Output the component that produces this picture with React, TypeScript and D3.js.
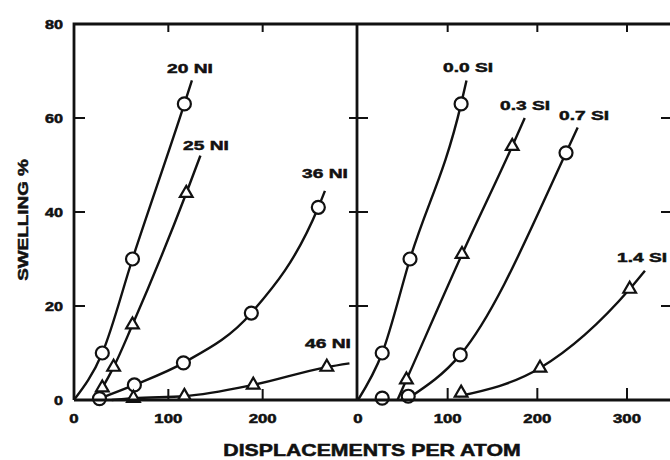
import React from "react";
import * as d3 from "d3";

// ---------- data (displacements per atom, swelling %) ----------
const xTicksLeft = [0, 100, 200];
const xTicksRight = [0, 100, 200, 300];
const yTicks = [0, 20, 40, 60, 80];
const yMinorTicks = [20, 40, 60];
const topTicksLeft = [100, 200];
const topTicksRight = [100, 200, 300];

// left panel: nickel series
const ni20Pts: [number, number][] = [[30, 10], [62, 30], [117, 63]];
const ni20Fit: [number, number][] = [[0, 0], [30, 10], [62, 30], [117, 63], [125, 68]];

const ni25Pts: [number, number][] = [[30, 2.6], [42, 7], [62, 16], [119, 44]];
const ni25Fit: [number, number][] = [[22, 0], [30, 2.6], [42, 7], [62, 16], [119, 44], [134, 52]];

const ni36Pts: [number, number][] = [[27, 0.3], [64, 3.2], [116, 7.9], [188, 18.5], [259, 41]];
const ni36Fit: [number, number][] = [[27, 0.3], [64, 3.2], [116, 7.9], [188, 18.5], [259, 41], [266, 44.5]];

const ni46Pts: [number, number][] = [[63, 0.4], [117, 0.8], [190, 3.2], [268, 7]];
const ni46Fit: [number, number][] = [[40, 0], [63, 0.4], [117, 0.8], [190, 3.2], [268, 7], [292, 7.8]];

// right panel: silicon series
const si00Pts: [number, number][] = [[27, 10], [58, 30], [115, 63]];
const si00Fit: [number, number][] = [[0, 0], [27, 10], [58, 30], [115, 63], [121, 68]];

const si03Pts: [number, number][] = [[54, 4.3], [116, 31], [172, 54]];
const si03Fit: [number, number][] = [[44, 0], [54, 4.3], [116, 31], [172, 54], [186, 60]];

const si07Pts: [number, number][] = [[27, 0.4], [56, 0.8], [114, 9.6], [232, 52.6]];
const si07Fit: [number, number][] = [[58, 0.6], [114, 9.6], [232, 52.6], [245, 58]];

const si14Pts: [number, number][] = [[115, 1.5], [203, 6.8], [303, 23.6]];
const si14Fit: [number, number][] = [[112, 0.8], [203, 6.8], [303, 23.6], [320, 27.5]];

const leftSeries = [
  { label: "20 NI", pts: ni20Pts, fit: ni20Fit, shape: "circle", lx: 190, ly: 73 },
  { label: "25 NI", pts: ni25Pts, fit: ni25Fit, shape: "triangle", lx: 206, ly: 150 },
  { label: "36 NI", pts: ni36Pts, fit: ni36Fit, shape: "circle", lx: 325, ly: 178 },
  { label: "46 NI", pts: ni46Pts, fit: ni46Fit, shape: "triangle", lx: 328, ly: 348 },
];
const rightSeries = [
  { label: "0.0 SI", pts: si00Pts, fit: si00Fit, shape: "circle", lx: 468, ly: 72 },
  { label: "0.3 SI", pts: si03Pts, fit: si03Fit, shape: "triangle", lx: 525, ly: 110 },
  { label: "0.7 SI", pts: si07Pts, fit: si07Fit, shape: "circle", lx: 584, ly: 120 },
  { label: "1.4 SI", pts: si14Pts, fit: si14Fit, shape: "triangle", lx: 642, ly: 262 },
];

// ---------- layout ----------
const W = 670;
const H = 460;
const top = 24;
const bottom = 400;
const leftX = 74;
const divX = 357;
const rightEdge = 670;

const xL = d3.scaleLinear().domain([0, 300]).range([leftX, divX]);
const xR = d3.scaleLinear().domain([0, 300]).range([358, 627]);
const y = d3.scaleLinear().domain([0, 80]).range([bottom, top]);

const FONT = "'Liberation Sans', Arial, Helvetica, sans-serif";
const INK = "#111";

function T({ x, y: yy, anchor = "middle", size = 12, sx = 1.4, rotate = 0, children }: any) {
  return (
    <text
      transform={`translate(${x},${yy})${rotate ? ` rotate(${rotate})` : ""} scale(${sx},1)`}
      textAnchor={anchor}
      fontFamily={FONT}
      fontWeight="bold"
      fontSize={size}
      fill={INK}
      stroke={INK}
      strokeWidth={0.5}
    >
      {children}
    </text>
  );
}

const triPath = d3.symbol().type(d3.symbolTriangle).size(70)() as string;

function Panel({ series, xs }: any) {
  const line = d3
    .line<[number, number]>()
    .x((d) => xs(d[0]))
    .y((d) => y(d[1]))
    .curve(d3.curveMonotoneX);
  return (
    <g>
      {series.map((s: any) => (
        <path key={s.label + "l"} d={line(s.fit) || ""} fill="none" stroke={INK} strokeWidth={2.4} />
      ))}
      {series.map((s: any) =>
        s.pts.map((p: [number, number], i: number) =>
          s.shape === "circle" ? (
            <circle key={s.label + i} cx={xs(p[0])} cy={y(p[1])} r={6.5} fill="#fff" stroke={INK} strokeWidth={2.2} />
          ) : (
            <path
              key={s.label + i}
              d={triPath}
              transform={`translate(${xs(p[0])},${y(p[1])})`}
              fill="#fff"
              stroke={INK}
              strokeWidth={2.2}
            />
          )
        )
      )}
      {series.map((s: any) => (
        <T key={s.label + "t"} x={s.lx} y={s.ly} size={13.5} sx={1.42}>
          {s.label}
        </T>
      ))}
    </g>
  );
}

export default function App() {
  return (
    <svg
      width={W}
      height={H}
      viewBox={`0 0 ${W} ${H}`}
      style={{ position: "absolute", left: 0, top: 0, background: "#fff" }}
    >
      <rect x={0} y={0} width={W} height={H} fill="#fff" />
      {/* ticks */}
      <g stroke={INK} strokeWidth={2}>
        {yMinorTicks.map((t) => (
          <g key={"yt" + t}>
            <line x1={leftX} x2={leftX + 11} y1={y(t)} y2={y(t)} />
            <line x1={divX - 8} x2={divX} y1={y(t)} y2={y(t)} />
            <line x1={358} x2={368} y1={y(t)} y2={y(t)} />
            <line x1={rightEdge - 9} x2={rightEdge} y1={y(t)} y2={y(t)} />
          </g>
        ))}
        {topTicksLeft.map((t) => (
          <g key={"tl" + t}>
            <line x1={xL(t)} x2={xL(t)} y1={top} y2={top + 8} />
            <line x1={xL(t)} x2={xL(t)} y1={bottom} y2={bottom - 11} />
          </g>
        ))}
        {topTicksRight.map((t) => (
          <g key={"tr" + t}>
            <line x1={xR(t)} x2={xR(t)} y1={top} y2={top + 8} />
            <line x1={xR(t)} x2={xR(t)} y1={bottom} y2={bottom - 12} />
          </g>
        ))}
      </g>

      <Panel series={leftSeries} xs={xL} />
      <Panel series={rightSeries} xs={xR} />

      {/* frame */}
      <g stroke={INK} strokeWidth={2.8} fill="none">
        <path d={`M${leftX},${bottom} V${top} H${W}`} />
        <line x1={leftX} x2={W} y1={bottom} y2={bottom} />
        <line x1={divX} x2={divX} y1={top} y2={bottom} />
      </g>

      {/* tick labels */}
      {yTicks.map((t) => (
        <T key={"yl" + t} x={63} y={y(t) + 4.5} anchor="end" size={12} sx={1.35}>
          {t}
        </T>
      ))}
      {xTicksLeft.map((t) => (
        <T key={"xl" + t} x={xL(t)} y={423} size={12} sx={1.4}>
          {t}
        </T>
      ))}
      {xTicksRight.map((t) => (
        <T key={"xr" + t} x={xR(t)} y={423} size={12} sx={1.4}>
          {t}
        </T>
      ))}

      {/* axis titles */}
      <T x={372} y={456} size={16} sx={1.33}>
        DISPLACEMENTS PER ATOM
      </T>
      <T x={28} y={220} size={14} sx={1.35} rotate={-90}>
        SWELLING %
      </T>
    </svg>
  );
}
